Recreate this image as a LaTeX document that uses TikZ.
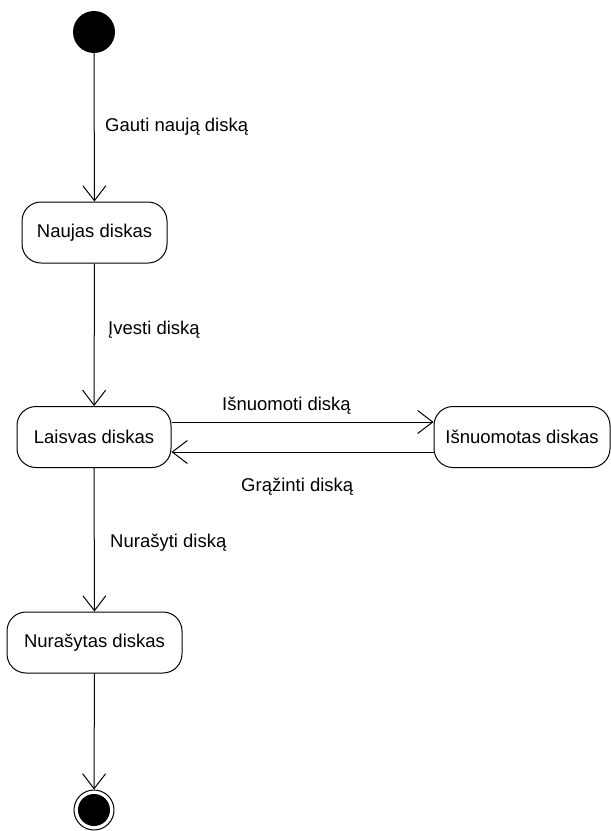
\documentclass[tikz,border=0pt]{standalone}
\usepackage{fontspec}
\setmainfont{Liberation Sans}
\usetikzlibrary{arrows.meta}
\begin{document}
\begin{tikzpicture}[x=1pt,y=-1pt,
  state/.style={draw,line width=1pt,rounded corners=19pt,minimum height=61pt,inner sep=0pt},
  lbl/.style={anchor=west,inner sep=0pt},
  trans/.style={line width=1pt,-{Straight Barb[length=15pt,width=23pt,line width=1pt]}}]
\fontsize{18.5}{22}\selectfont
\useasboundingbox (0,0) rectangle (611,831);
\node[circle,fill,minimum size=42pt,inner sep=0pt] (start) at (94,32) {};
\node[state,minimum width=145pt] (naujas) at (94.5,232.5) {Naujas diskas};
\node[state,minimum width=154pt] (laisvas) at (94,437) {Laisvas diskas};
\node[state,minimum width=176pt] (isnuom) at (522,437) {Išnuomotas diskas};
\node[state,minimum width=175pt] (nurasytas) at (94.5,642.5) {Nurašytas diskas};
\node[circle,draw,line width=1pt,minimum size=40pt,inner sep=0pt] (end) at (94,810) {};
\fill (end.center) circle [radius=16pt];
\draw[trans] (start) -- (naujas);
\draw[trans] (naujas) -- (laisvas);
\draw[trans] ([yshift=15pt]laisvas.east) -- ([yshift=15pt]isnuom.west);
\draw[trans] ([yshift=-15pt]isnuom.west) -- ([yshift=-15pt]laisvas.east);
\draw[trans] (laisvas) -- (nurasytas);
\draw[trans] (nurasytas) -- (end);
\node[lbl] (gauti) at (105,127) {Gauti naują diską};
\node[lbl] (ivesti) at (108,330) {Įvesti diską};
\node[lbl] (isnuomoti) at (222,406) {Išnuomoti diską};
\node[lbl] (grazinti) at (241,487) {Grąžinti diską};
\node[lbl] (nurasyti) at (110,543) {Nurašyti diską};
\end{tikzpicture}
\end{document}
